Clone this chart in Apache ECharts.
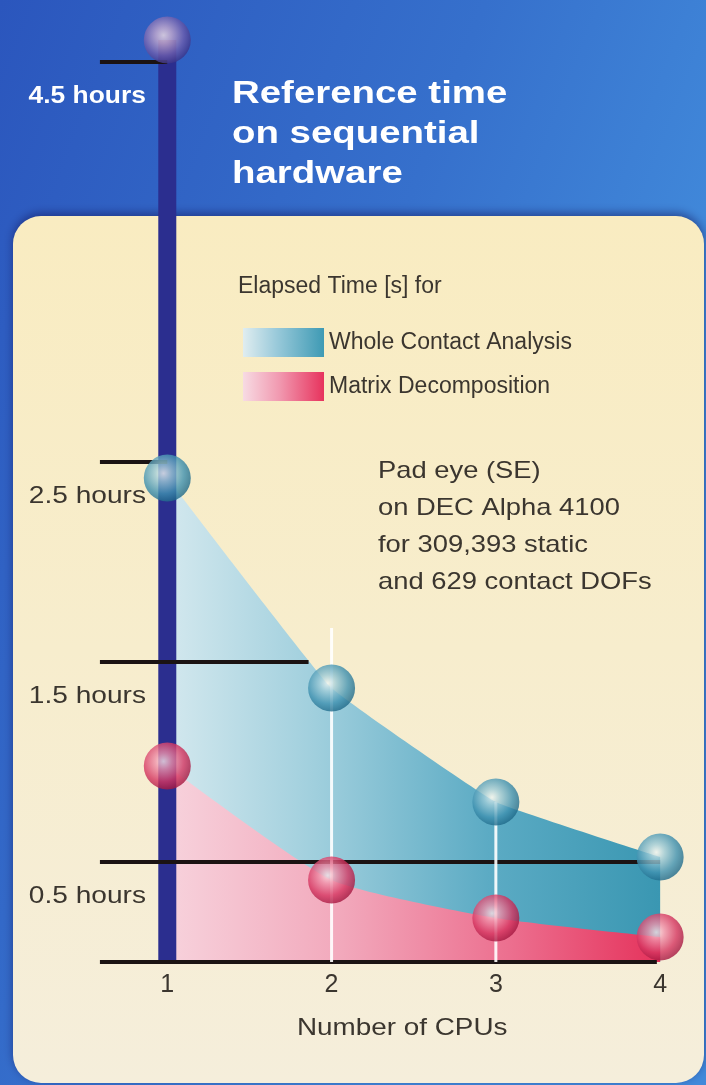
<!DOCTYPE html>
<html>
<head>
<meta charset="utf-8">
<script src="https://cdn.jsdelivr.net/npm/echarts@6/dist/echarts.min.js"></script>
<style>
  html, body { margin: 0; padding: 0; background: #3264c6; }
  #chart { width: 706px; height: 1085px; }
</style>
</head>
<body>
<div id="chart"></div>
<script>
// Elapsed time (hours) per number of CPUs
const cpus = [1, 2, 3, 4];
const cpuTickLabels = ['1', '2', '3', '4'];
const wholeContactHours = [2.42, 1.37, 0.80, 0.525];
const matrixDecompHours = [0.98, 0.41, 0.22, 0.125];
const sequentialHours = 4.61;          // reference run on sequential hardware (1 CPU)
const hourTicks = [4.5, 2.5, 1.5, 0.5];
const hourTickLabels = ['4.5 hours', '2.5 hours', '1.5 hours', '0.5 hours'];
const seriesNames = ['Whole Contact Analysis', 'Matrix Decomposition'];
const legendTitle = 'Elapsed Time [s] for';
const titleLines = ['Reference time', 'on sequential', 'hardware'];
const noteLines = ['Pad eye (SE)', 'on DEC Alpha 4100', 'for 309,393 static', 'and 629 contact DOFs'];
const xAxisTitle = 'Number of CPUs';

const FONT = '"Liberation Sans", Arial, Helvetica, sans-serif';
const TEXT_DARK = '#3b362f';

function linear(stops, x2 = 1, y2 = 0) {
  return { type: 'linear', x: 0, y: 0, x2, y2,
    colorStops: stops.map(([offset, color]) => ({ offset, color })) };
}
function sphere(stops) {
  return { type: 'radial', x: 0.42, y: 0.4, r: 0.62,
    colorStops: stops.map(([offset, color]) => ({ offset, color })) };
}

const blueFill = linear([[0, '#d3e8ee'], [0.3, '#a0cfdd'], [0.65, '#5cabc4'], [1, '#3a97b2']]);
const pinkFill = linear([[0, '#f7d2dc'], [0.35, '#f2a9bc'], [0.7, '#ec6e8e'], [1, '#e5335c']]);
const blueSwatch = linear([[0, '#e0edf0'], [0.4, '#9ccbdb'], [1, '#3e9ab4']]);
const pinkSwatch = linear([[0, '#f7dbe3'], [0.45, '#f199b0'], [1, '#e7335d']]);
const blueBall = sphere([[0, '#eef5f2'], [0.28, '#9ecbd7'], [0.7, '#3f91b0'], [1, '#1e6888']]);
const pinkBall = sphere([[0, '#f9e2e6'], [0.28, '#ef92aa'], [0.7, '#d53560'], [1, '#a3163f']]);
const purpleBall = sphere([[0, '#f3dde3'], [0.28, '#c6a9cd'], [0.7, '#6c5dad'], [1, '#3b3488']]);

// rule lines at the hour marks plus the base line
const ruleStart = 0.59;
const ruleLevels = hourTicks.concat([0]);
const ruleEnds = [1, 1, 1.86, 4, 3.98];

const chart = echarts.init(document.getElementById('chart'), null, { renderer: 'canvas' });

const series = [
  {
    name: seriesNames[0], type: 'line', smooth: 0.08, symbol: 'none', silent: true, z: 2,
    itemStyle: { color: '#5eabc4' },
    lineStyle: { width: 0 },
    areaStyle: { color: blueFill, opacity: 1 },
    data: cpus.map((c, i) => [c, wholeContactHours[i]])
  },
  {
    name: seriesNames[1], type: 'line', smooth: 0.18, symbol: 'none', silent: true, z: 2,
    itemStyle: { color: '#ec6e8e' },
    lineStyle: { width: 0 },
    areaStyle: { color: pinkFill, opacity: 1 },
    data: cpus.map((c, i) => [c, matrixDecompHours[i]])
  },
  {
    // sequential reference column at 1 CPU
    type: 'line', symbol: 'none', silent: true, z: 3,
    lineStyle: { color: '#2b2e8f', width: 18, cap: 'butt' },
    data: [[cpus[0], 0], [cpus[0], sequentialHours]]
  }
];

ruleLevels.forEach((h, i) => {
  series.push({
    type: 'line', symbol: 'none', silent: true, z: 4,
    lineStyle: { color: '#1b1313', width: 4, cap: 'butt' },
    data: [[ruleStart, h], [ruleEnds[i], h]]
  });
});

// white drop lines at 2 and 3 CPUs
series.push({
  type: 'line', symbol: 'none', silent: true, z: 5,
  lineStyle: { color: '#ffffff', width: 3, opacity: 0.9 },
  data: [[cpus[1], 0], [cpus[1], 1.67]]
});
series.push({
  type: 'line', symbol: 'none', silent: true, z: 5,
  lineStyle: { color: '#ffffff', width: 3, opacity: 0.9 },
  data: [[cpus[2], 0], [cpus[2], wholeContactHours[2]]]
});

series.push({
  type: 'scatter', symbol: 'circle', symbolSize: 47, silent: true, z: 6,
  itemStyle: { color: blueBall },
  data: cpus.map((c, i) => [c, wholeContactHours[i]])
});
series.push({
  type: 'scatter', symbol: 'circle', symbolSize: 47, silent: true, z: 6,
  itemStyle: { color: pinkBall },
  data: cpus.map((c, i) => [c, matrixDecompHours[i]])
});
series.push({
  type: 'scatter', symbol: 'circle', symbolSize: 47, silent: true, z: 6,
  itemStyle: { color: purpleBall },
  data: [[cpus[0], sequentialHours]]
});

chart.setOption({
  animation: false,
  backgroundColor: linear([[0, '#2b56bd'], [0.6, '#3670cc'], [1, '#4189da']], 1, 0.25),
  grid: { left: 0, right: 13, top: 2, bottom: 123 },
  xAxis: {
    type: 'value', min: 0, max: 4.2, interval: 1,
    axisLine: { show: false }, axisTick: { show: false }, splitLine: { show: false },
    axisLabel: {
      margin: 11, fontSize: 25, color: TEXT_DARK, fontFamily: FONT,
      showMaxLabel: false,
      formatter: v => { const i = cpus.indexOf(v); return i < 0 ? '' : cpuTickLabels[i]; }
    }
  },
  yAxis: { type: 'value', min: 0, max: 4.8, show: false },
  legend: {
    orient: 'vertical', left: 238, top: 323,
    itemWidth: 81, itemHeight: 29, itemGap: 15,
    selectedMode: false,
    textStyle: { fontSize: 23, color: TEXT_DARK, fontFamily: FONT, padding: [5, 0, 0, 0] },
    data: [
      { name: seriesNames[0], icon: 'rect', itemStyle: { color: blueSwatch, borderWidth: 0 } },
      { name: seriesNames[1], icon: 'rect', itemStyle: { color: pinkSwatch, borderWidth: 0 } }
    ]
  },
  series
});

// text and panel, placed with the chart's own coordinate conversion
function text(str, x, y, opts) {
  return {
    type: 'text', x, y, z: 20, silent: true,
    scaleX: opts.scaleX || 1,
    style: {
      text: str, x: 0, y: 0,
      fill: opts.fill || TEXT_DARK,
      font: (opts.weight || 'normal') + ' ' + opts.size + 'px ' + FONT,
      align: opts.align || 'left', textAlign: opts.align || 'left',
      verticalAlign: 'middle', textVerticalAlign: 'middle'
    }
  };
}

const graphics = [
  {
    type: 'rect', z: -10, silent: true,
    shape: { x: 13, y: 216, width: 691, height: 867, r: 28 },
    style: {
      fill: linear([[0, '#f9ecc1'], [0.5, '#f7edcd'], [1, '#f5eedb']], 0, 1),
      shadowColor: 'rgba(18,24,95,0.55)', shadowBlur: 10, shadowOffsetY: -3
    }
  }
];

titleLines.forEach((line, i) => {
  graphics.push(text(line, 232, 94 + i * 40, { size: 32, weight: 'bold', fill: '#ffffff', scaleX: 1.2 }));
});

hourTicks.forEach((h, i) => {
  const p = chart.convertToPixel({ gridIndex: 0 }, [0.87, h]);
  const first = i === 0;
  graphics.push(text(hourTickLabels[i], p[0], p[1] + 34, {
    size: 24, align: 'right',
    weight: first ? 'bold' : 'normal',
    fill: first ? '#ffffff' : TEXT_DARK,
    scaleX: first ? 1.1 : 1.17
  }));
});

graphics.push(text(legendTitle, 238, 287, { size: 23 }));

noteLines.forEach((line, i) => {
  graphics.push(text(line, 378, 471 + i * 37, { size: 24, scaleX: 1.14 }));
});

const axisMid = chart.convertToPixel({ gridIndex: 0 }, [2.43, 0]);
graphics.push(text(xAxisTitle, axisMid[0], axisMid[1] + 66, { size: 24, align: 'center', scaleX: 1.16 }));

chart.setOption({ graphic: { elements: graphics } });
</script>
</body>
</html>
